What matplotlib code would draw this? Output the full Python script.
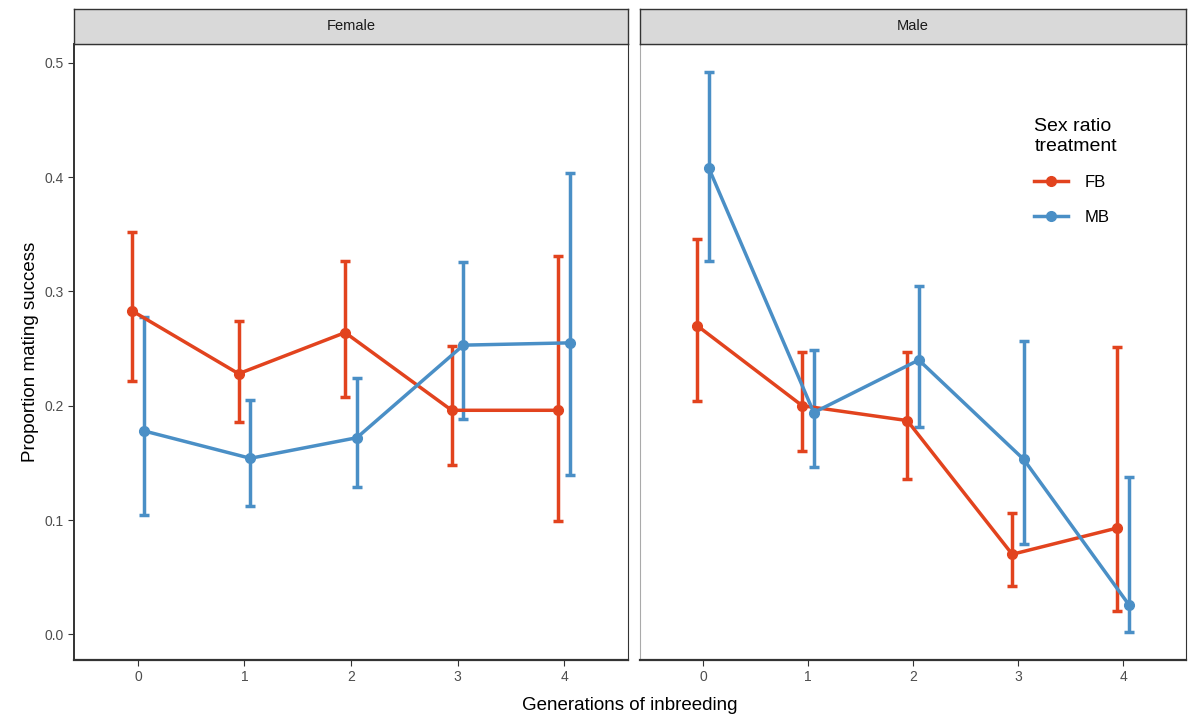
import matplotlib.pyplot as plt
from matplotlib.lines import Line2D
import numpy as np

plt.rcParams['font.family'] = ['Liberation Sans', 'DejaVu Sans']

generations = [0, 1, 2, 3, 4]
panels = ['Female', 'Male']
treatments = ['FB', 'MB']
colors = {'FB': '#E2431E', 'MB': '#4A8FC6'}

# mean, upper, lower per panel and treatment
means = {
    'Female': {'FB': [0.283, 0.228, 0.264, 0.196, 0.196],
               'MB': [0.178, 0.154, 0.172, 0.253, 0.255]},
    'Male':   {'FB': [0.270, 0.200, 0.187, 0.070, 0.093],
               'MB': [0.408, 0.194, 0.240, 0.153, 0.026]},
}
upper = {
    'Female': {'FB': [0.352, 0.274, 0.327, 0.252, 0.331],
               'MB': [0.278, 0.205, 0.224, 0.326, 0.404]},
    'Male':   {'FB': [0.346, 0.247, 0.247, 0.106, 0.251],
               'MB': [0.492, 0.249, 0.305, 0.257, 0.138]},
}
lower = {
    'Female': {'FB': [0.222, 0.186, 0.208, 0.148, 0.099],
               'MB': [0.104, 0.112, 0.129, 0.188, 0.139]},
    'Male':   {'FB': [0.204, 0.160, 0.136, 0.042, 0.020],
               'MB': [0.327, 0.146, 0.181, 0.079, 0.002]},
}
dodge = {'FB': -0.055, 'MB': 0.055}

W, H = 1191, 724
fig = plt.figure(figsize=(W / 100, H / 100), dpi=100)

boxes = [(74, 628), (640, 1186)]
top, bottom = 44, 660
strip_top = 9

for i, panel in enumerate(panels):
    x0, x1 = boxes[i]
    ax = fig.add_axes([x0 / W, 1 - bottom / H, (x1 - x0) / W, (bottom - top) / H])
    for t in treatments:
        x = np.array(generations) + dodge[t]
        m = np.array(means[panel][t])
        up = np.array(upper[panel][t])
        lo = np.array(lower[panel][t])
        ax.errorbar(x, m, yerr=[m - lo, up - m], color=colors[t], lw=2.5,
                    elinewidth=2.5, capsize=3.5, capthick=2.5,
                    marker='o', markersize=7)
    ax.set_xlim(-0.6, 4.6)
    ax.set_ylim(-0.0225, 0.5165)
    ax.set_xticks(generations)
    ax.set_yticks([0.0, 0.1, 0.2, 0.3, 0.4, 0.5])
    ax.tick_params(colors='#333333', labelcolor='#4D4D4D', labelsize=10,
                   length=4, width=0.8)
    if i == 0:
        ax.set_yticklabels(['0.0', '0.1', '0.2', '0.3', '0.4', '0.5'])
        ax.set_ylabel('Proportion mating success', fontsize=13.5, color='black')
    else:
        ax.tick_params(axis='y', left=False, labelleft=False)
    for s in ax.spines.values():
        s.set_color('#333333')
        s.set_linewidth(0.8)
    ax.spines['bottom'].set_linewidth(1.6)
    if i == 0:
        ax.spines['left'].set_linewidth(1.4)
    else:
        ax.spines['left'].set_color('#AAAAAA')

    # strip
    sax = fig.add_axes([x0 / W, 1 - top / H, (x1 - x0) / W, (top - strip_top) / H])
    sax.set_facecolor('#D9D9D9')
    sax.set_xticks([])
    sax.set_yticks([])
    for s in sax.spines.values():
        s.set_color('#333333')
        s.set_linewidth(1.0)
    sax.text(0.5, 0.5, panel, ha='center', va='center', fontsize=10.5,
             color='#1A1A1A', transform=sax.transAxes)

    if i == 1:
        handles = [Line2D([], [], color=colors[t], lw=2.5, marker='o',
                          markersize=7) for t in treatments]
        leg = ax.legend(handles, treatments, title='Sex ratio\ntreatment',
                        loc='upper left', bbox_to_anchor=(0.695, 0.905),
                        frameon=False, fontsize=12, title_fontsize=14,
                        handlelength=2.0, handletextpad=1.0,
                        labelspacing=1.2, alignment='left')
        leg.get_title().set_linespacing(1.25)

fig.text((74 + 1186) / 2 / W, 1 - 706 / H, 'Generations of inbreeding',
         ha='center', va='center', fontsize=13.5)

fig.savefig('out.png', dpi=100)
